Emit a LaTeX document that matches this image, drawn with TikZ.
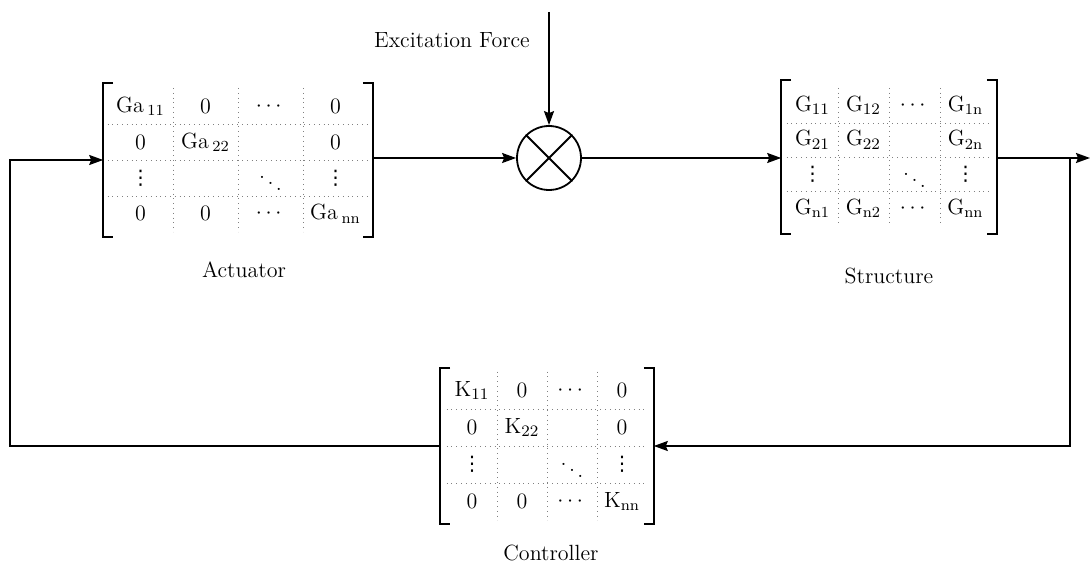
\documentclass[tikz,border=0pt]{standalone}
\usepackage{amsmath}
\usepackage{fontspec}
\newfontfamily\symfont{DejaVu Sans}
\usepackage{tikz}
\usetikzlibrary{positioning,matrix,fit,arrows.meta}

% square brackets round a fitted block
\newcommand{\mbrackets}[1]{%
  \draw[bracket] ([xshift=5pt]#1.north west) -- (#1.north west) -- (#1.south west) -- ([xshift=5pt]#1.south west);
  \draw[bracket] ([xshift=-5pt]#1.north east) -- (#1.north east) -- (#1.south east) -- ([xshift=-5pt]#1.south east);
}
% dotted partition lines inside a 4x4 matrix
\newcommand{\mgrid}[1]{%
  \foreach \j in {1,2,3}
    \draw[gridline] (#1-1-\j.east |- #1.north) -- (#1-1-\j.east |- #1.south);
  \foreach \i in {1,2,3}
    \draw[gridline] (#1-\i-1.south -| #1.west) -- (#1-\i-1.south -| #1.east);
}
% vertical dots as one glyph
\newcommand{\vdotz}{{\symfont\fontsize{10}{12}\selectfont ⋮}}

\begin{document}
\begin{tikzpicture}[
    x=0.5pt, y=-0.5pt,
    every node/.style={font=\fontsize{11}{13}\selectfont},
    mtx/.style={matrix of nodes, nodes in empty cells, inner sep=0pt, column sep=0pt, row sep=0pt},
    actcells/.style={mtx, nodes={minimum width=32.5pt, minimum height=17.9pt, inner sep=0pt, anchor=center}},
    strcells/.style={mtx, nodes={minimum width=25.5pt, minimum height=17.2pt, inner sep=0pt, anchor=center}},
    ctrlcells/.style={mtx, nodes={minimum width=25pt, minimum height=18.5pt, inner sep=0pt, anchor=center}},
    gridline/.style={dotted, gray, line width=0.4pt},
    bracket/.style={line width=1pt},
    line/.style={line width=0.9pt},
    arrow/.style={-{Stealth[length=7pt, width=5pt, inset=1pt]}, line width=0.9pt},
    sumnode/.style={circle, draw, line width=0.9pt, minimum size=32pt, inner sep=0pt}
]
\useasboundingbox (0,0) rectangle (1091,571);

% Actuator
\matrix (actm) [actcells] at (238,160) {
  Ga\,$_{\mathrm{11}}$ & 0 & $\cdots$ & 0 \\
  0 & Ga\,$_{\mathrm{22}}$ & & 0 \\
  \vdotz & & $\ddots$ & \vdotz \\
  0 & 0 & $\cdots$ & Ga\,$_{\mathrm{nn}}$ \\
};
\node[fit=(actm), inner xsep=2pt, inner ysep=2.5pt] (act) {};
\mgrid{actm}
\mbrackets{act}
\node[below=8.5pt of act, xshift=3pt] (actlabel) {Actuator};

% Summing junction
\node[sumnode] (sum) at (549,158) {};
\draw[line] (sum.north west) -- (sum.south east);
\draw[line] (sum.north east) -- (sum.south west);
\coordinate (exc) at (549,12);
\node (exclabel) at (452,40) {Excitation Force};

% Structure
\matrix (strm) [strcells] at (889,157) {
  G$_{11}$ & G$_{12}$ & $\cdots$ & G$_{\mathrm{1n}}$ \\
  G$_{21}$ & G$_{22}$ & & G$_{\mathrm{2n}}$ \\
  \vdotz & & $\ddots$ & \vdotz \\
  G$_{\mathrm{n1}}$ & G$_{\mathrm{n2}}$ & $\cdots$ & G$_{\mathrm{nn}}$ \\
};
\node[fit=(strm), inner xsep=2.5pt, inner ysep=3.5pt] (str) {};
\mgrid{strm}
\mbrackets{str}
\node[below=13.5pt of str] (strlabel) {Structure};

% Controller
\matrix (ctrlm) [ctrlcells] at (547,446) {
  K$_{11}$ & 0 & $\cdots$ & 0 \\
  0 & K$_{22}$ & & 0 \\
  \vdotz & & $\ddots$ & \vdotz \\
  0 & 0 & $\cdots$ & K$_{\mathrm{nn}}$ \\
};
\node[fit=(ctrlm), inner xsep=3pt, inner ysep=1.5pt] (ctrl) {};
\mgrid{ctrlm}
\mbrackets{ctrl}
\node[below=7pt of ctrl, xshift=2pt] (ctrllabel) {Controller};

% Signal flow
\coordinate (fbcorner) at (10,446);
\coordinate (branch) at (1070,158);
\coordinate (out) at (1090,158);
\draw[arrow] (exc) -- (sum.north);
\draw[arrow] (sum.west -| act.east) -- (sum.west);
\draw[arrow] (sum.east) -- (sum.east -| str.west);
\draw[arrow] (out -| str.east) -- (out);
\draw[arrow] (branch) |- (ctrl.east);
\draw[arrow] (ctrl.west) -- (fbcorner) |- (act.west);

\end{tikzpicture}
\end{document}
